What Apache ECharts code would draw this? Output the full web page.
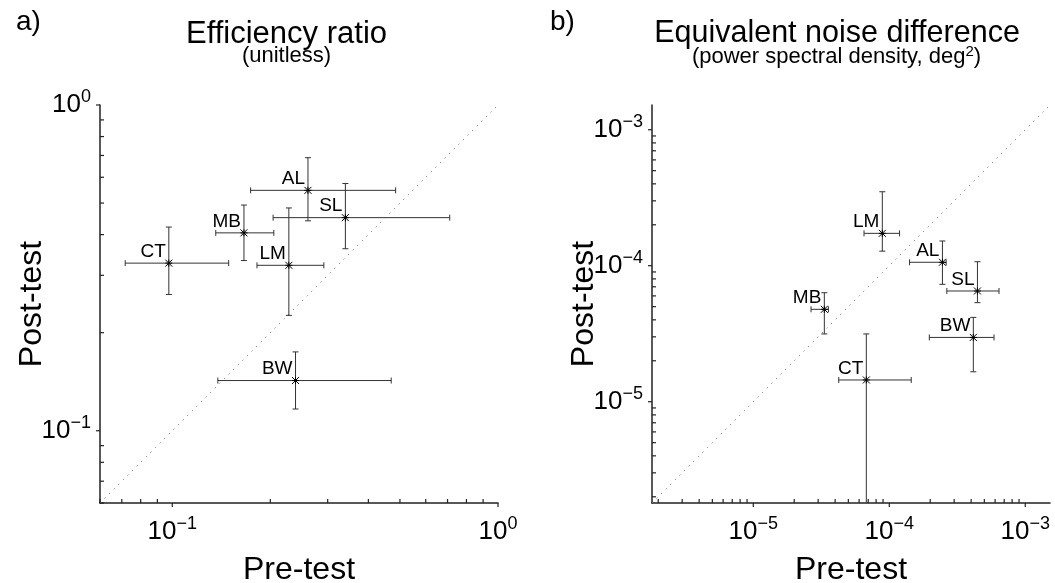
<!DOCTYPE html>
<html>
<head>
<meta charset="utf-8">
<script src="https://cdn.jsdelivr.net/npm/echarts@6/dist/echarts.min.js"></script>
<style>
  html, body { margin: 0; padding: 0; background: #fff; }
  #chart { width: 1055px; height: 583px; }
</style>
</head>
<body>
<div id="chart"></div>
<script>
// a) efficiency ratio (unitless)
const effNames = ['AL', 'SL', 'MB', 'CT', 'LM', 'BW'];
const effPre = [0.261, 0.340, 0.166, 0.0976, 0.228, 0.239];
const effPreLo = [0.174, 0.204, 0.136, 0.0717, 0.182, 0.138];
const effPreHi = [0.485, 0.711, 0.205, 0.149, 0.292, 0.470];
const effPost = [0.547, 0.451, 0.405, 0.327, 0.322, 0.1426];
const effPostLo = [0.441, 0.362, 0.333, 0.262, 0.226, 0.1166];
const effPostHi = [0.689, 0.574, 0.493, 0.422, 0.483, 0.1746];

// b) equivalent noise difference (deg^2)
const endNames = ['LM', 'AL', 'SL', 'MB', 'BW', 'CT'];
const endPre = [8.89e-5, 2.46e-4, 4.45e-4, 3.33e-5, 4.15e-4, 6.78e-5];
const endPreLo = [6.52e-5, 1.41e-4, 2.65e-4, 2.66e-5, 1.97e-4, 4.25e-5];
const endPreHi = [1.19e-4, 2.62e-4, 6.41e-4, 3.57e-5, 5.89e-4, 1.45e-4];
const endPost = [1.73e-4, 1.06e-4, 6.52e-5, 4.78e-5, 2.97e-5, 1.445e-5];
const endPostLo = [1.28e-4, 7.3e-5, 5.35e-5, 3.15e-5, 1.66e-5, 1e-7];
const endPostHi = [3.5e-4, 1.52e-4, 1.07e-4, 6.33e-5, 4.17e-5, 3.15e-5];

// axis limits and ticks
const effRange = [0.06, 1];
const endRange = [1.8e-6, 1.52e-3];
const effMajor = [0.1, 1];
const effMinor = [0.06, 0.07, 0.08, 0.09, 0.2, 0.3, 0.4, 0.5, 0.6, 0.7, 0.8, 0.9];
const endMajor = [1e-5, 1e-4, 1e-3];
const endMinor = [2e-6, 3e-6, 4e-6, 5e-6, 6e-6, 7e-6, 8e-6, 9e-6,
  2e-5, 3e-5, 4e-5, 5e-5, 6e-5, 7e-5, 8e-5, 9e-5,
  2e-4, 3e-4, 4e-4, 5e-4, 6e-4, 7e-4, 8e-4, 9e-4];

const FONT = '"Liberation Sans", Arial, Helvetica, sans-serif';
const chart = echarts.init(document.getElementById('chart'));

function powerLabel(value) {
  const l = Math.log10(value);
  const e = Math.round(l);
  if (Math.abs(l - e) > 1e-6) return '';
  return '{m|10}{s|' + (e < 0 ? '\u2212' + (-e) : e) + '}';
}
const powRich = {
  m: { fontSize: 26, fontFamily: FONT, color: '#000', lineHeight: 26 },
  s: { fontSize: 18, fontFamily: FONT, color: '#000', lineHeight: 18, padding: [0, 0, 15, 0] }
};

function errData(pre, post, preLo, preHi, postLo, postHi) {
  return pre.map((v, i) => [v, post[i], preLo[i], preHi[i], postLo[i], postHi[i]]);
}

function tickData(major, minor, lo) {
  const d = [];
  major.forEach(v => { d.push([v, lo, 1, 0]); d.push([lo, v, 1, 1]); });
  minor.forEach(v => { d.push([v, lo, 0, 0]); d.push([lo, v, 0, 1]); });
  return d;
}

function renderTick(params, api) {
  const p = api.coord([api.value(0), api.value(1)]);
  const major = api.value(2) === 1;
  const isY = api.value(3) === 1;
  const len = major ? -4 : 4; // majors outward, minors inward
  const shape = isY
    ? { x1: p[0], y1: p[1], x2: p[0] + len, y2: p[1] }
    : { x1: p[0], y1: p[1], x2: p[0], y2: p[1] - len };
  return { type: 'line', shape: shape, style: { stroke: '#222', lineWidth: 1.2 } };
}

function errorBars(names) {
  return function (params, api) {
    const c = api.coord([api.value(0), api.value(1)]);
    const xl = api.coord([api.value(2), api.value(1)])[0];
    const xh = api.coord([api.value(3), api.value(1)])[0];
    const yl = api.coord([api.value(0), api.value(4)])[1];
    const yh = api.coord([api.value(0), api.value(5)])[1];
    const cap = 3, s = 3.5;
    const bar = { stroke: '#333', lineWidth: 1 };
    const mark = { stroke: '#000', lineWidth: 1 };
    const line = (x1, y1, x2, y2, st) => ({ type: 'line', shape: { x1, y1, x2, y2 }, style: st || bar });
    return {
      type: 'group',
      children: [
        line(xl, c[1], xh, c[1]),
        line(xl, c[1] - cap, xl, c[1] + cap),
        line(xh, c[1] - cap, xh, c[1] + cap),
        line(c[0], yl, c[0], yh),
        line(c[0] - cap, yl, c[0] + cap, yl),
        line(c[0] - cap, yh, c[0] + cap, yh),
        line(c[0] - s, c[1] - s, c[0] + s, c[1] + s, mark),
        line(c[0] - s, c[1] + s, c[0] + s, c[1] - s, mark),
        line(c[0] - s, c[1], c[0] + s, c[1], mark),
        line(c[0], c[1] - s, c[0], c[1] + s, mark),
        {
          type: 'text',
          x: c[0] - 3, y: c[1] - 2,
          style: {
            text: names[params.dataIndex], font: '19px ' + FONT, fill: '#000',
            align: 'right', verticalAlign: 'bottom', textAlign: 'right', textVerticalAlign: 'bottom'
          }
        }
      ]
    };
  };
}

function logAxis(idx, range, name, isY) {
  return {
    type: 'log', logBase: 10, gridIndex: idx, min: range[0], max: range[1],
    axisLine: { show: true, onZero: false, lineStyle: { color: '#222', width: 1.5 } },
    axisTick: { show: false },
    splitLine: { show: false },
    axisLabel: { formatter: powerLabel, margin: isY ? 9 : 16, color: '#000', rich: powRich },
    name: name, nameLocation: 'middle', nameGap: isY ? 52 : 51, nameMoveOverlap: false,
    nameTextStyle: { fontSize: 32, fontFamily: FONT, color: '#000' }
  };
}

function diag(range) {
  return [[range[0], range[0]], [range[1], range[1]]];
}

function txt(x, y, text, size, extra) {
  return {
    type: 'text', x: x, y: y, silent: true,
    style: Object.assign({
      text: text, font: size + 'px ' + FONT, fill: '#000',
      align: 'center', verticalAlign: 'middle', textAlign: 'center', textVerticalAlign: 'middle'
    }, extra || {})
  };
}

const options = {
  animation: false,
  backgroundColor: '#fff',
  grid: [
    { left: 100, top: 105, width: 398, height: 398, containLabel: false, outerBoundsMode: 'none' },
    { left: 652, top: 105, width: 398, height: 398, containLabel: false, outerBoundsMode: 'none' }
  ],
  xAxis: [logAxis(0, effRange, 'Pre-test', false), logAxis(1, endRange, 'Pre-test', false)],
  yAxis: [logAxis(0, effRange, 'Post-test', true), logAxis(1, endRange, 'Post-test', true)],
  graphic: [
    txt(16, 22, 'a)', 28, { align: 'left', textAlign: 'left' }),
    txt(550, 22, 'b)', 28, { align: 'left', textAlign: 'left' }),
    txt(286.5, 34, 'Efficiency ratio', 31),
    txt(286.5, 56, '(unitless)', 22),
    txt(837, 34, 'Equivalent noise difference', 30.5),
    txt(836.5, 57, '(power spectral density, deg{s|2})', 22, {
      rich: { s: { fontSize: 15, fontFamily: FONT, fill: '#000', padding: [0, 0, 10, 0] } }
    })
  ],
  series: [
    {
      type: 'line', xAxisIndex: 0, yAxisIndex: 0, data: diag(effRange), symbol: 'none', silent: true,
      lineStyle: { color: '#666', width: 1, type: [1, 5.5] }, z: 1
    },
    {
      type: 'line', xAxisIndex: 1, yAxisIndex: 1, data: diag(endRange), symbol: 'none', silent: true,
      lineStyle: { color: '#666', width: 1, type: [1, 5.5] }, z: 1
    },
    {
      type: 'custom', xAxisIndex: 0, yAxisIndex: 0, clip: false, silent: true, z: 3,
      data: tickData(effMajor, effMinor, effRange[0]), renderItem: renderTick
    },
    {
      type: 'custom', xAxisIndex: 1, yAxisIndex: 1, clip: false, silent: true, z: 3,
      data: tickData(endMajor, endMinor, endRange[0]), renderItem: renderTick
    },
    {
      type: 'custom', xAxisIndex: 0, yAxisIndex: 0, clip: true, silent: true, z: 2,
      data: errData(effPre, effPost, effPreLo, effPreHi, effPostLo, effPostHi),
      renderItem: errorBars(effNames)
    },
    {
      type: 'custom', xAxisIndex: 1, yAxisIndex: 1, clip: true, silent: true, z: 2,
      data: errData(endPre, endPost, endPreLo, endPreHi, endPostLo, endPostHi),
      renderItem: errorBars(endNames)
    }
  ]
};

chart.setOption(options);
window.addEventListener('resize', () => {
  chart.resize();
});
</script>
</body>
</html>
